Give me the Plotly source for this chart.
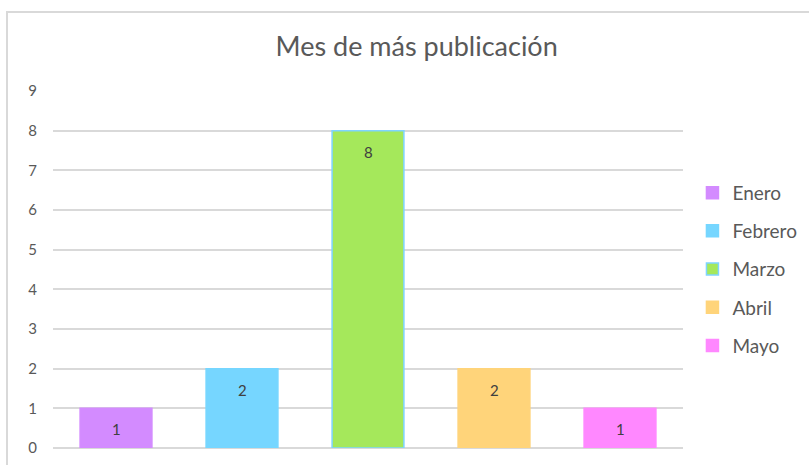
import plotly.graph_objects as go

months = ["Enero", "Febrero", "Marzo", "Abril", "Mayo"]
counts = [1, 2, 8, 2, 1]
colors = ["#D38BFF", "#76D6FF", "#A5E85B", "#FFD47A", "#FF88FF"]
y_ticks = [0, 1, 2, 3, 4, 5, 6, 7, 8, 9]

fig = go.Figure()
for m, c, col in zip(months, counts, colors):
    line_col = "#7FD4FF" if m == "Marzo" else col
    fig.add_trace(go.Bar(
        x=[m], y=[c], name=m, legendgroup=m,
        marker=dict(color=col, line=dict(color=line_col, width=1.5)),
        hoverinfo="x+y",
    ))
    fig.add_annotation(x=m, y=c, text=str(c), showarrow=False, yshift=-21,
                       font=dict(size=15, color="#404040"))

fig.update_layout(
    width=809, height=465,
    margin=dict(l=53, r=126, t=91, b=17, autoexpand=False),
    paper_bgcolor="white", plot_bgcolor="white",
    font=dict(family="Lato, Open Sans, sans-serif", color="#595959"),
    title=dict(text="Mes de más publicación", x=0.515, xanchor="center",
               y=0.9, yanchor="middle", font=dict(size=27, color="#595959"),
               automargin=False),
    barmode="group", bargap=0.43,
    showlegend=True,
    legend=dict(x=1.015, xanchor="left", y=0.768, yanchor="top",
                font=dict(size=19, color="#595959"), tracegroupgap=10.5,
                itemwidth=30, bgcolor="rgba(0,0,0,0)"),
    xaxis=dict(showticklabels=False, showgrid=False, showline=False, ticks="",
               categoryorder="array", categoryarray=months, fixedrange=True,
               automargin=False),
    yaxis=dict(range=[0, 9], tickvals=y_ticks, showgrid=True, gridcolor="#D9D9D9",
               gridwidth=1.5, zeroline=True, zerolinecolor="#D9D9D9", zerolinewidth=1.5,
               showline=False, ticks="", ticklabelstandoff=15, automargin=False,
               tickfont=dict(size=15, color="#595959")),
    shapes=[dict(type="rect", xref="paper", yref="paper",
                 x0=-0.073, y0=-0.2, x1=1.4, y1=1.221,
                 line=dict(color="#D9D9D9", width=2), layer="below")],
)

fig.write_html("out.html", config={"displayModeBar": False},
               post_script="document.body.style.margin='0';document.body.style.overflow='hidden';")
